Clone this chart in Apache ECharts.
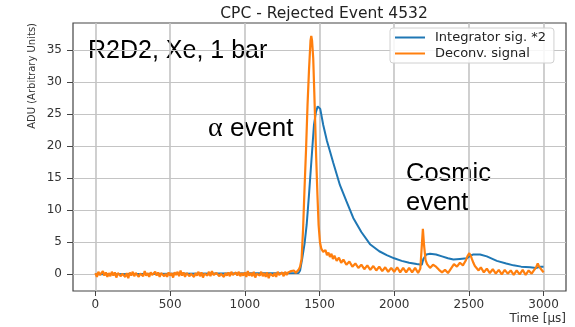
<!DOCTYPE html>
<html>
<head>
<meta charset="utf-8">
<script src="https://cdn.jsdelivr.net/npm/echarts@6/dist/echarts.min.js"></script>
<style>
html,body{margin:0;padding:0;background:#fff;}
#chart{width:575px;height:327px;}
</style>
</head>
<body>
<div id="chart"></div>
<script>
// ---- data ----
const titleText = 'CPC - Rejected Event 4532';
const xTicks = [0, 500, 1000, 1500, 2000, 2500, 3000];
const yTicks = [0, 5, 10, 15, 20, 25, 30, 35];
const seriesNames = ['Integrator sig. *2', 'Deconv. signal'];

const integTime = [0, 1360, 1370, 1384, 1400, 1414, 1430, 1447, 1463, 1476, 1488, 1496, 1505, 1525, 1550, 1570, 1592, 1637, 1680, 1726, 1780, 1838, 1900, 1950, 2000, 2050, 2100, 2150, 2185, 2195, 2215, 2240, 2280, 2320, 2360, 2396, 2440, 2485, 2510, 2530, 2575, 2620, 2687, 2750, 2798, 2850, 2910, 2950, 2980, 3000];
const integValue = [0, 0.2, 0.6, 2.4, 4.8, 7.7, 12.5, 18.1, 23.3, 25.3, 26.2, 26.4, 25.8, 23.3, 20.8, 19.2, 17.4, 13.9, 11.4, 8.8, 6.6, 4.7, 3.6, 3.0, 2.5, 2.1, 1.8, 1.6, 1.5, 2.4, 3.1, 3.2, 3.1, 2.8, 2.5, 2.3, 2.4, 2.5, 2.9, 3.1, 3.1, 2.8, 2.1, 1.7, 1.4, 1.2, 1.1, 1.0, 1.2, 1.2];

const deconvTime = [
  0, 10, 20, 30, 40, 50, 60, 70, 80, 90,
  100, 110, 120, 130, 140, 150, 160, 170, 180, 190,
  200, 210, 220, 230, 240, 250, 260, 270, 280, 290,
  300, 310, 320, 330, 340, 350, 360, 370, 380, 390,
  400, 410, 420, 430, 440, 450, 460, 470, 480, 490,
  500, 510, 520, 530, 540, 550, 560, 570, 580, 590,
  600, 610, 620, 630, 640, 650, 660, 670, 680, 690,
  700, 710, 720, 730, 740, 750, 760, 770, 780, 790,
  800, 810, 820, 830, 840, 850, 860, 870, 880, 890,
  900, 910, 920, 930, 940, 950, 960, 970, 980, 990,
  1000, 1010, 1020, 1030, 1040, 1050, 1060, 1070, 1080, 1090,
  1100, 1110, 1120, 1130, 1140, 1150, 1160, 1170, 1180, 1190,
  1200, 1210, 1220, 1230, 1240, 1250, 1260, 1270, 1280, 1290,
  1300, 1310, 1320, 1330, 1340, 1350, 1360, 1370, 1380, 1390,
  1400, 1410, 1420, 1430, 1440, 1445, 1450, 1458, 1465, 1472,
  1478, 1486, 1494, 1503, 1512, 1525, 1540, 1550, 1560, 1570,
  1580, 1590, 1600, 1615, 1630, 1645, 1660, 1680, 1700, 1720,
  1740, 1760, 1780, 1800, 1820, 1840, 1860, 1880, 1900, 1920,
  1940, 1960, 1980, 2000, 2020, 2040, 2060, 2080, 2100, 2120,
  2140, 2160, 2175, 2185, 2192, 2200, 2210, 2220, 2230, 2240,
  2250, 2260, 2270, 2280, 2290, 2300, 2320, 2340, 2360, 2380,
  2390, 2400, 2420, 2440, 2460, 2480, 2490, 2503, 2512, 2520,
  2530, 2540, 2553, 2565, 2580, 2600, 2620, 2640, 2660, 2680,
  2700, 2720, 2740, 2760, 2780, 2800, 2820, 2840, 2860, 2880,
  2900, 2920, 2935, 2950, 2961, 2970, 2981, 2990, 3000
];
const deconvValue = [
  0.2, -0.4, 0.4, -0.1, -0.3, 0.5, -0.2, 0.3, -0.4, 0.2,
  -0.3, 0.4, -0.2, 0.3, -0.5, 0.2, 0.4, -0.3, 0.1, 0.3,
  -0.4, 0.2, -0.6, 0.3, -0.2, 0.4, -0.3, 0.2, 0.4, -0.4,
  0.1, 0.3, -0.3, 0.5, -0.2, 0.2, -0.4, 0.3, -0.1, -0.3,
  0.4, -0.2, 0.3, -0.4, 0.2, 0.5, -0.3, 0.1, -0.4, 0.3,
  -0.2, 0.2, -0.5, 0.3, -0.1, 0.4, -0.3, 0.6, -0.2, 0.3,
  -0.4, 0.2, 0.4, -0.3, 0.1, 0.3, -0.4, 0.2, -0.2, 0.4,
  -0.3, 0.3, -0.5, 0.1, 0.3, -0.2, 0.4, -0.3, 0.5, -0.1,
  -0.4, 0.2, 0.3, -0.3, 0.1, 0.4, -0.4, 0.2, -0.2, 0.3,
  -0.3, 0.4, -0.1, -0.4, 0.3, -0.2, 0.4, -0.3, 0.2, -0.2,
  0.3, -0.4, 0.5, -0.2, 0.2, -0.3, 0.4, -0.5, 0.1, 0.3,
  -0.2, 0.4, -0.3, 0.2, -0.4, 0.3, -0.6, 0.1, 0.3, -0.3,
  0.2, -0.4, 0.4, -0.1, -0.2, 0.3, -0.3, 0.4, -0.1, 0.3,
  0.1, 0.5, 0.2, 0.6, 0.2, 0.4, 0.7, 1.2, 2.4, 7.0,
  13.5, 19.5, 26.5, 32.0, 36.5, 37.2, 36.5, 33.7, 28.5, 23.0,
  18.1, 12.5, 7.7, 5.0, 4.0, 3.5, 3.8, 3.0, 3.4, 2.7,
  3.2, 2.4, 2.9, 2.1, 2.6, 1.8, 2.3, 1.5, 2.0, 1.2,
  1.7, 1.0, 1.5, 0.8, 1.4, 0.7, 1.3, 0.6, 1.2, 0.5,
  1.1, 0.4, 1.0, 0.4, 1.1, 0.3, 1.0, 0.3, 1.0, 0.3,
  1.0, 0.2, 0.9, 0.6, 7.1, 4.5, 2.2, 1.6, 1.3, 1.0,
  1.3, 1.5, 1.8, 1.2, 0.9, 0.7, 0.3, 0.7, 0.2, 0.9,
  1.2, 1.6, 1.2, 1.8, 1.4, 2.2, 2.8, 3.3, 2.9, 2.4,
  1.8, 1.3, 1.0, 0.6, 1.1, 0.3, 0.9, 0.2, 0.8, 0.1,
  0.7, 0.0, 0.7, 0.1, 0.6, -0.1, 0.6, 0.0, 0.7, -0.1,
  0.6, 0.1, 0.6, 1.1, 1.7, 1.2, 1.0, 0.6, 0.3
];

function zip(t, v) { return t.map((x, i) => [x, v[i]]); }

const chart = echarts.init(document.getElementById('chart'), null, {renderer: 'canvas'});
const tickFont = {fontFamily: 'DejaVu Sans', fontSize: 12, color: '#333'};
const plain = v => String(v);

chart.setOption({
  animation: false,
  backgroundColor: '#fff',
  title: {
    text: titleText,
    left: 319, top: 1, textAlign: 'center',
    textStyle: {fontFamily: 'DejaVu Sans', fontSize: 15.5, fontWeight: 'normal', color: '#222'}
  },
  grid: {
    left: 73, top: 23, width: 493, height: 268,
    show: true, borderColor: '#444', borderWidth: 1.2, backgroundColor: 'transparent'
  },
  legend: {
    orient: 'vertical',
    left: 390, top: 28,
    data: seriesNames,
    icon: 'rect',
    itemWidth: 30, itemHeight: 2, itemGap: 3,
    padding: [3, 8, 3, 5],
    backgroundColor: 'rgba(255,255,255,0.85)',
    borderColor: '#d0d0d0', borderWidth: 1, borderRadius: 3,
    textStyle: {fontFamily: 'DejaVu Sans', fontSize: 13, color: '#222', padding: [0, 0, 0, 5]}
  },
  xAxis: {
    type: 'value', min: -150, max: 3150,
    name: 'Time [μs]', nameLocation: 'end', nameGap: 0,
    nameTextStyle: {fontFamily: 'DejaVu Sans', fontSize: 12, color: '#333', align: 'right', verticalAlign: 'top', padding: [22, 0, 0, 0]},
    axisLine: {show: false, onZero: false},
    axisTick: {show: true, length: 5, customValues: xTicks, lineStyle: {color: '#444', width: 1}},
    axisLabel: Object.assign({customValues: xTicks, margin: 8, formatter: plain}, tickFont),
    splitLine: {show: true, lineStyle: {color: '#c4c4c4', width: 1.6}}
  },
  yAxis: {
    type: 'value', min: -2.6, max: 39.2,
    name: 'ADU (Arbitrary Units)', nameLocation: 'end', nameGap: 0, nameRotate: 90,
    nameTextStyle: {fontFamily: 'DejaVu Sans', fontSize: 10, color: '#333', align: 'right', verticalAlign: 'bottom', padding: [0, 0, 36, 0]},
    axisLine: {show: false, onZero: false},
    axisTick: {show: true, length: 6, customValues: yTicks, lineStyle: {color: '#444', width: 1}},
    axisLabel: Object.assign({customValues: yTicks, margin: 11, formatter: plain}, tickFont),
    splitLine: {show: true, lineStyle: {color: '#c4c4c4', width: 1}}
  },
  graphic: [
    {type: 'text', left: 88, top: 39, style: {text: 'R2D2, Xe, 1 bar', fontFamily: 'Liberation Sans', fontSize: 25, fill: '#000'}},
    {type: 'text', left: 208, top: 115, style: {
      text: '{a|α} event', fontFamily: 'Liberation Sans', fontSize: 26, fill: '#000',
      rich: {a: {fontFamily: 'Liberation Serif', fontSize: 28, fill: '#000'}}
    }},
    {type: 'text', left: 406, top: 159, style: {text: 'Cosmic\nevent', fontFamily: 'Liberation Sans', fontSize: 25.5, lineHeight: 29, fill: '#000'}}
  ],
  series: [
    {
      name: seriesNames[0], type: 'line', data: zip(integTime, integValue),
      showSymbol: false, symbol: 'none', smooth: false,
      lineStyle: {color: '#1f77b4', width: 2}, itemStyle: {color: '#1f77b4'}, z: 2
    },
    {
      name: seriesNames[1], type: 'line', data: zip(deconvTime, deconvValue),
      showSymbol: false, symbol: 'none', smooth: false,
      lineStyle: {color: '#ff7f0e', width: 2.2}, itemStyle: {color: '#ff7f0e'}, z: 3
    }
  ]
});
</script>
</body>
</html>
